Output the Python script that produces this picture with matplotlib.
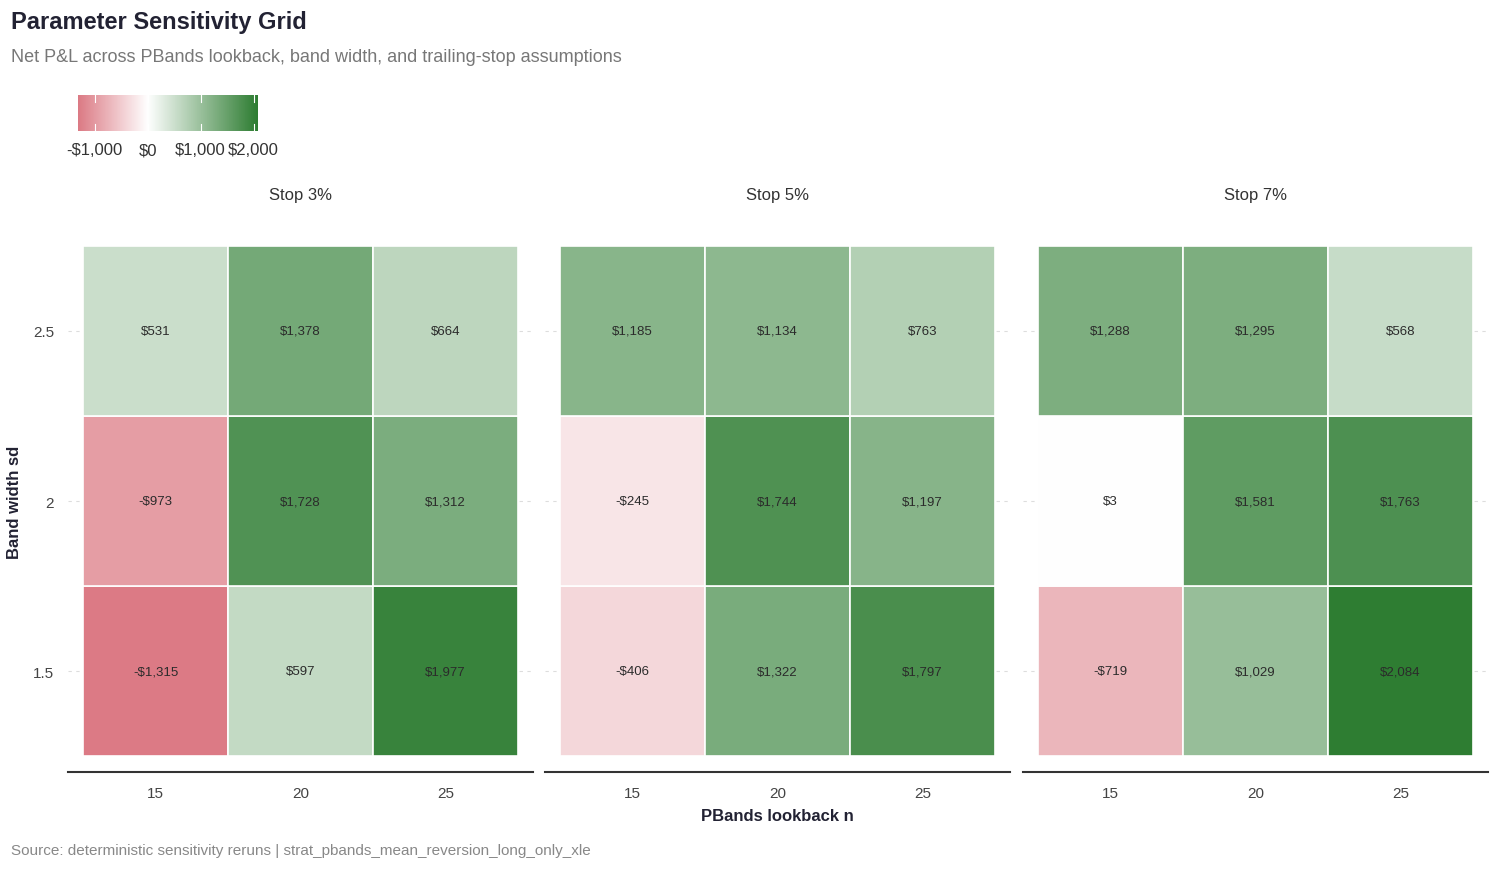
import numpy as np
import matplotlib
matplotlib.use("Agg")
import matplotlib.pyplot as plt
from matplotlib.colors import LinearSegmentedColormap, Normalize

plt.rcParams['font.family'] = ['Liberation Sans', 'DejaVu Sans']

stops = ["Stop 3%", "Stop 5%", "Stop 7%"]
lookbacks = [15, 20, 25]
widths = [1.5, 2.0, 2.5]
# values[stop][width_index][lookback_index]
values = {
    "Stop 3%": [[-1315, 597, 1977], [-973, 1728, 1312], [531, 1378, 664]],
    "Stop 5%": [[-406, 1322, 1797], [-245, 1744, 1197], [1185, 1134, 763]],
    "Stop 7%": [[-719, 1029, 2084], [3, 1581, 1763], [1288, 1295, 568]],
}

allv = np.array([values[s] for s in stops]).ravel()
vmax_abs = np.abs(allv).max()
cmap = LinearSegmentedColormap.from_list("div", [(199/255, 45/255, 61/255), (1, 1, 1), (46/255, 125/255, 50/255)])
norm = Normalize(-vmax_abs, vmax_abs)

def fmt(v):
    return ("-$" if v < 0 else "$") + f"{abs(v):,}"

fig = plt.figure(figsize=(15, 8.7), dpi=100)
W, H = 1500, 870
lefts = [68, 545, 1023]
for i, s in enumerate(stops):
    ax = fig.add_axes([lefts[i] / W, (870 - 773) / H, 465 / W, 542 / H])
    for yi, wv in enumerate(widths):
        for xi, lb in enumerate(lookbacks):
            v = values[s][yi][xi]
            ax.add_patch(plt.Rectangle((lb - 2.5, wv - 0.25), 5, 0.5, facecolor=cmap(norm(v)),
                                       edgecolor="white", linewidth=1.2, zorder=2))
            ax.text(lb, wv, fmt(v), ha="center", va="center", fontsize=9.5, color="#2b2b2b", zorder=3)
    ax.set_xlim(11.98, 28.02)
    ax.set_ylim(1.203, 2.797)
    ax.set_xticks(lookbacks)
    ax.set_yticks(widths)
    ax.set_yticklabels(["1.5", "2", "2.5"])
    for sp in ["top", "right", "left"]:
        ax.spines[sp].set_visible(False)
    ax.spines["bottom"].set_color("#333333")
    ax.spines["bottom"].set_linewidth(1.5)
    ax.tick_params(length=0, labelsize=11, colors="#444444", pad=10)
    if i > 0:
        ax.set_yticklabels([])
    ax.grid(axis="y", linestyle=(0, (3, 4)), color="#dddddd", linewidth=0.8, zorder=0)
    ax.set_axisbelow(True)
    ax.set_title(s, fontsize=12, color="#333333", pad=22)
    if i == 0:
        ax.set_ylabel("Band width sd", fontsize=12, fontweight="bold", color="#222233", labelpad=8)
    if i == 1:
        ax.set_xlabel("PBands lookback n", fontsize=12, fontweight="bold", color="#222233", labelpad=6)

fig.text(11 / W, 1 - 22 / H, "Parameter Sensitivity Grid", fontsize=17, fontweight="bold",
         color="#222233", va="center")
fig.text(11 / W, 1 - 57 / H, "Net P&L across PBands lookback, band width, and trailing-stop assumptions",
         fontsize=13, color="#777777", va="center")
fig.text(11 / W, 1 - 851 / H, "Source: deterministic sensitivity reruns | strat_pbands_mean_reversion_long_only_xle",
         fontsize=11, color="#888888", va="center")

# colorbar
cax = fig.add_axes([78 / W, 1 - 132 / H, 180 / W, 36 / H])
lo, hi = allv.min(), allv.max()
grad = np.linspace(lo, hi, 300)[None, :]
cax.imshow(grad, aspect="auto", cmap=cmap, norm=norm, extent=[lo, hi, 0, 1])
cax.set_xlim(lo, hi)
cax.set_yticks([])
ticks = [-1000, 0, 1000, 2000]
cax.set_xticks(ticks)
cax.set_xticklabels([fmt(t) for t in ticks])
cax.tick_params(axis="x", length=0, labelsize=12, colors="#333333", pad=8)
for t in ticks:
    cax.plot([t, t], [0, 0.2], color="white", lw=0.8)
    cax.plot([t, t], [0.8, 1], color="white", lw=0.8)
for sp in cax.spines.values():
    sp.set_visible(False)

fig.savefig("out.png", dpi=100)
